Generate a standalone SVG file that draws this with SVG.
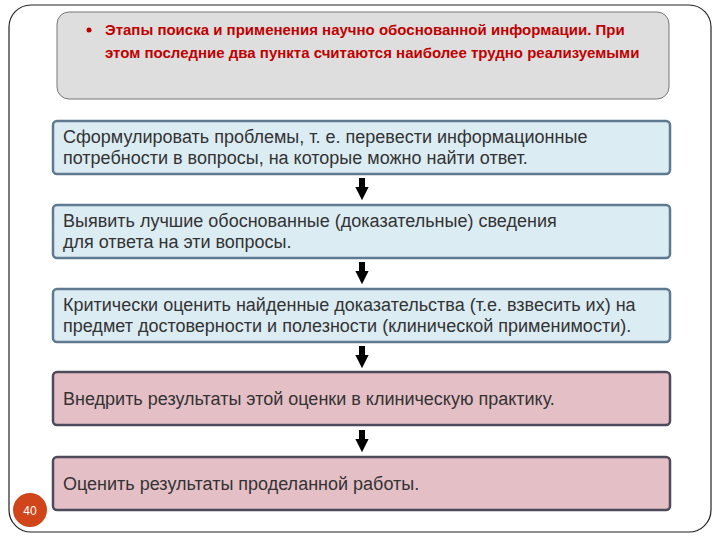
<svg xmlns="http://www.w3.org/2000/svg" width="720" height="540" viewBox="0 0 720 540">
<style>
.t{font-family:"Liberation Sans",Arial,sans-serif;font-size:18px;fill:#333}
.h{font-family:"Liberation Sans",Arial,sans-serif;font-size:15px;font-weight:bold;fill:#c00000}
.b{fill:#dcecf3;stroke:#5d7a91;stroke-width:2.5}
.p{fill:#e4bfc6;stroke:#4d4a5c;stroke-width:2.5}
</style>
<defs><marker id="a" markerWidth="2.2" markerHeight="2.2" refX="0" refY="1.1" orient="auto" markerUnits="strokeWidth"><path d="M0,0L2.2,1.1L0,2.2z" fill="#000"/></marker></defs>
<rect x="0" y="0" width="720" height="540" fill="#fff"/>
<rect x="9" y="5" width="702" height="527" rx="22" fill="none" stroke="#222" stroke-width="1.2"/>
<g id="title"><rect x="57" y="12" width="612" height="87" rx="12" fill="#dedede" stroke="#777"/>
<circle cx="89" cy="30" r="2.5" fill="#c00000"/>
<text class="h" x="105" y="35">Этапы поиска и применения научно обоснованной информации. При</text>
<text class="h" x="105" y="58">этом последние два пункта считаются наиболее трудно реализуемыми</text></g>
<g id="n1"><rect class="b" x="53" y="121" width="617" height="53" rx="4"/>
<text class="t" x="63" y="143">Сформулировать проблемы, т. е. перевести информационные</text>
<text class="t" x="63" y="164">потребности в вопросы, на которые можно найти ответ.</text></g>
<g id="n2"><rect class="b" x="53" y="205" width="617" height="53" rx="4"/>
<text class="t" x="63" y="227">Выявить лучшие обоснованные (доказательные) сведения</text>
<text class="t" x="63" y="248">для ответа на эти вопросы.</text></g>
<g id="n3"><rect class="b" x="53" y="289" width="617" height="53" rx="4"/>
<text class="t" x="63" y="311">Критически оценить найденные доказательства (т.е. взвесить их) на</text>
<text class="t" x="63" y="332">предмет достоверности и полезности (клинической применимости).</text></g>
<g id="n4"><rect class="p" x="53" y="372" width="617" height="53" rx="4"/>
<text class="t" x="63" y="405">Внедрить результаты этой оценки в клиническую практику.</text></g>
<g id="n5"><rect class="p" x="53" y="457" width="617" height="53" rx="4"/>
<text class="t" x="63" y="490">Оценить результаты проделанной работы.</text></g>
<g id="connectors" stroke="#000" stroke-width="6" marker-end="url(#a)">
<line x1="362" y1="178" x2="362" y2="187"/>
<line x1="362" y1="262" x2="362" y2="271"/>
<line x1="362" y1="346" x2="362" y2="355"/>
<line x1="362" y1="430" x2="362" y2="439"/>
</g>
<g id="page"><circle cx="30" cy="510" r="17" fill="#d0461a"/>
<text x="30" y="515" text-anchor="middle" font-family="Liberation Sans,sans-serif" font-size="12" fill="#fff">40</text></g>
</svg>
